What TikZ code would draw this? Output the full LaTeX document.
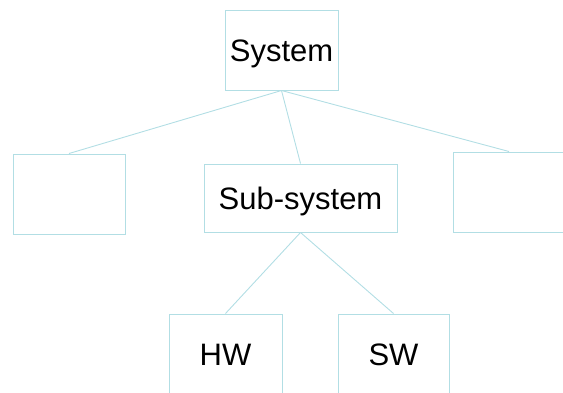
\documentclass[tikz,border=0pt]{standalone}
\usepackage{fontspec}
\setmainfont{Liberation Sans}
\definecolor{boxline}{RGB}{178,222,228}
\begin{document}
\begin{tikzpicture}[x=1pt,y=-1pt,
  blk/.style={draw=boxline,line width=1pt,rectangle,inner sep=0pt,
    minimum height=80pt,
    font=\fontsize{31}{36}\selectfont,text height=22.2pt,text depth=0pt},
  link/.style={draw=boxline,line width=0.9pt}]
  \clip (0,0) rectangle (563,392);
  % tree of blocks
  \node[blk,minimum width=113pt] (sys) at (281.5,50) {System};
  \node[blk,minimum width=112pt] (left) at (69,194) {};
  \node[blk,minimum width=193pt,minimum height=68pt] (sub) at (300.5,198) {Sub-system};
  \node[blk,minimum width=112pt] (right) at (509,192) {};
  \node[blk,minimum width=113pt] (hw) at (225.5,354) {HW};
  \node[blk,minimum width=111pt] (sw) at (393.5,354) {SW};
  % connectors from parent bottom to child top
  \draw[link] (sys.south) -- (left.north);
  \draw[link] (sys.south) -- (sub.north);
  \draw[link] (sys.south) -- (right.north);
  \draw[link] (sub.south) -- (hw.north);
  \draw[link] (sub.south) -- (sw.north);
\end{tikzpicture}
\end{document}
